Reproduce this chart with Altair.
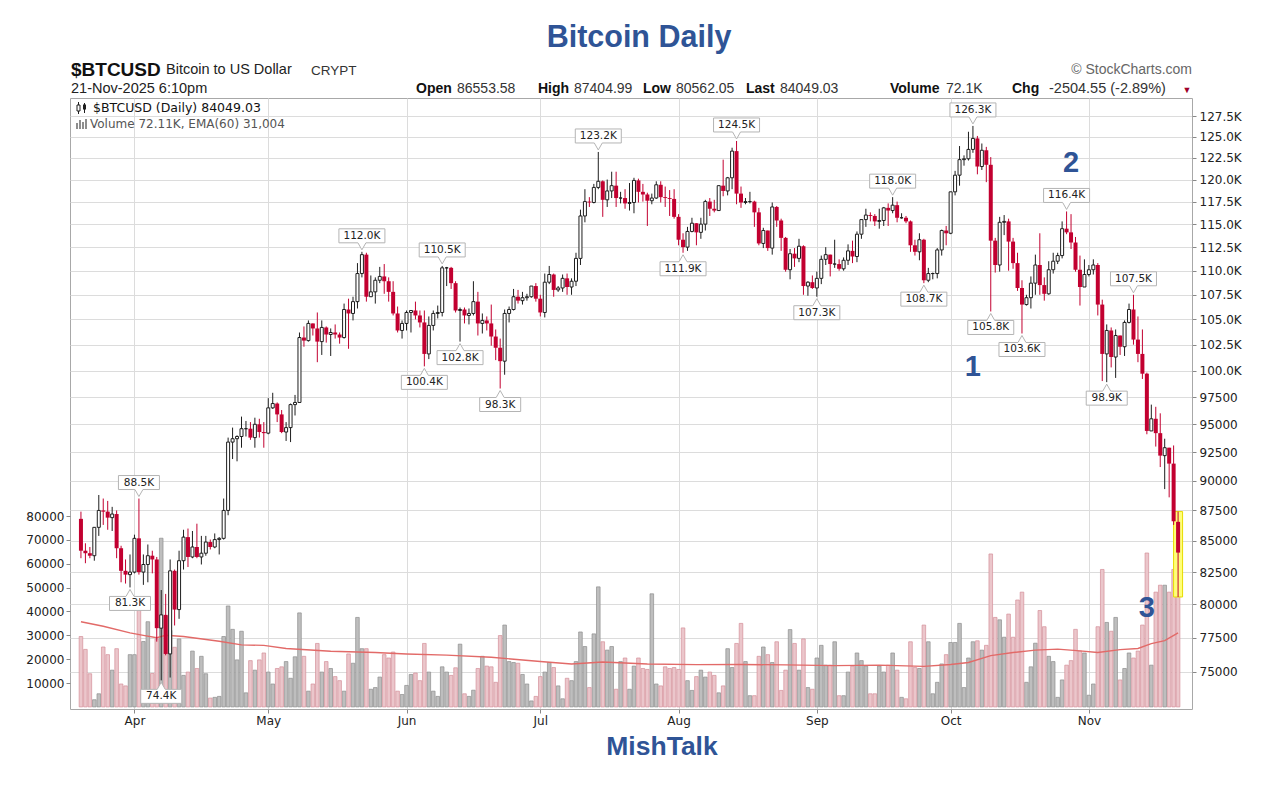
import altair as alt
import pandas as pd

# ---------------------------------------------------------------------------
# BTCUSD daily candles, 20-Mar-2025 .. 21-Nov-2025 (prices in thousands USD)
# ---------------------------------------------------------------------------
close_mar = [84.2, 84.0, 83.8, 86.1, 87.5, 87.4, 86.9, 87.2, 84.4, 82.6, 82.3, 82.5]
high_mar = [87.4, 84.8, 84.5, 86.1, 88.8, 88.5, 88.3, 87.8, 87.5, 84.6, 83.5, 83.9]
low_mar = [83.6, 83.2, 83.6, 83.4, 85.4, 86.3, 85.9, 85.8, 83.6, 81.7, 81.6, 81.3]

close_apr = [85.2, 82.5, 83.1, 83.8, 83.5, 78.2, 79.2, 76.3, 82.6, 79.6, 83.4, 85.3, 83.7, 84.5, 83.7,
             84.0, 84.9, 84.5, 85.1, 85.2, 87.5, 93.4, 93.7, 93.9, 94.6, 94.6, 93.8, 95.0, 94.3, 94.2]
high_apr = [85.5, 88.5, 83.9, 84.7, 84.2, 83.7, 81.1, 80.8, 83.5, 82.7, 84.2, 85.9, 86.0, 85.8, 86.4,
            85.4, 85.4, 85.1, 85.6, 85.3, 88.5, 93.8, 94.7, 94.0, 95.7, 95.3, 95.2, 95.6, 95.5, 95.2]
low_apr = [82.4, 82.3, 81.5, 81.7, 82.4, 77.2, 74.4, 76.2, 74.6, 78.4, 78.9, 82.7, 82.9, 83.6, 83.6,
           83.1, 83.8, 84.3, 84.4, 83.9, 85.1, 87.1, 91.9, 91.7, 92.9, 93.9, 93.6, 92.9, 93.8, 92.9]

close_may = [96.5, 96.9, 95.9, 94.3, 94.7, 96.8, 97.0, 103.2, 102.9, 104.6, 104.1, 102.8, 104.2, 103.5, 103.7,
             103.5, 103.2, 106.0, 105.6, 106.8, 109.7, 111.7, 107.3, 107.8, 109.0, 109.4, 108.9, 107.8, 105.6,
             103.9, 104.6]
high_may = [97.4, 97.9, 97.0, 96.3, 95.2, 96.9, 97.7, 103.7, 104.3, 104.9, 104.6, 105.7, 104.9, 104.3, 104.1,
            104.5, 103.7, 106.6, 107.1, 107.3, 110.8, 112.0, 111.9, 109.5, 109.3, 110.4, 110.7, 109.3, 108.9,
            106.3, 104.9]
low_may = [94.1, 96.4, 95.2, 94.2, 93.5, 93.4, 95.8, 97.0, 102.3, 102.8, 103.4, 100.8, 101.5, 102.7, 101.4,
           103.1, 102.6, 103.1, 102.1, 104.9, 106.1, 109.3, 106.8, 107.3, 106.6, 108.7, 107.6, 106.8, 105.4,
           103.7, 103.1]

close_jun = [105.7, 105.9, 105.4, 104.7, 101.6, 104.4, 105.6, 105.7, 110.3, 110.3, 108.7, 105.9, 106.0, 105.4,
             105.6, 106.8, 104.6, 104.9, 104.6, 103.3, 102.2, 100.9, 105.6, 106.0, 107.3, 106.9, 107.2, 107.3,
             108.4, 107.1]
high_jun = [105.9, 105.9, 106.8, 105.9, 105.9, 105.3, 105.9, 106.4, 110.5, 110.4, 110.4, 108.9, 106.2, 106.2,
            106.1, 108.9, 107.8, 105.6, 105.3, 106.5, 104.0, 103.1, 106.0, 106.3, 108.1, 108.0, 107.8, 107.6,
            108.4, 108.7]
low_jun = [103.9, 103.7, 105.0, 104.2, 100.4, 101.1, 103.9, 105.1, 105.3, 108.4, 108.1, 105.7, 102.8, 104.6,
           104.5, 105.4, 103.4, 103.6, 103.9, 102.4, 101.0, 98.3, 99.6, 104.7, 105.9, 106.6, 106.5, 106.9,
           107.2, 106.8]

close_jul = [105.7, 108.8, 109.6, 108.0, 108.2, 109.2, 108.3, 108.9, 111.3, 115.9, 117.5, 117.4, 119.1, 119.8,
             117.7, 118.7, 119.3, 117.9, 117.9, 117.3, 117.4, 119.9, 118.6, 118.3, 117.6, 117.9, 119.4, 118.0,
             117.9, 117.8, 115.8]
high_jul = [107.5, 109.7, 110.5, 109.7, 108.4, 109.6, 109.7, 109.2, 111.9, 116.6, 118.9, 118.0, 119.5, 123.2,
            119.9, 120.0, 120.9, 120.9, 118.6, 118.9, 119.6, 120.2, 120.1, 119.5, 118.5, 118.4, 119.8, 119.8,
            119.2, 118.8, 118.9]
low_jul = [105.3, 105.2, 108.6, 107.3, 107.8, 107.8, 107.5, 107.5, 108.4, 110.6, 115.2, 116.9, 117.3, 118.9,
           115.8, 116.9, 117.9, 116.9, 117.3, 116.7, 116.5, 116.2, 117.4, 117.5, 114.8, 117.2, 117.8, 117.4,
           116.9, 115.9, 115.6]

close_aug = [113.3, 112.5, 114.2, 115.1, 114.1, 115.0, 117.5, 116.7, 116.5, 119.3, 118.7, 120.2, 123.3, 118.4,
             117.4, 117.5, 117.5, 116.3, 112.9, 114.3, 112.4, 116.9, 115.4, 113.5, 110.1, 111.8, 111.3, 112.6,
             108.4, 108.8, 108.2]
high_aug = [116.1, 114.0, 114.7, 115.7, 115.1, 115.7, 117.7, 117.9, 117.7, 119.3, 122.3, 120.3, 123.7, 124.5,
            119.2, 117.9, 118.6, 117.6, 116.8, 114.6, 114.3, 117.4, 117.0, 115.6, 113.6, 112.3, 112.4, 113.4,
            112.7, 108.9, 109.5]
low_aug = [112.7, 111.9, 112.1, 114.1, 112.7, 113.4, 114.3, 115.9, 116.3, 116.5, 118.1, 118.2, 118.9, 117.2,
           116.8, 117.2, 117.3, 114.7, 112.7, 112.4, 112.1, 111.7, 114.7, 112.1, 109.9, 109.1, 110.4, 110.9,
           107.5, 107.4, 108.1]

close_sep = [109.2, 111.2, 111.7, 110.7, 110.7, 110.2, 111.1, 112.1, 111.5, 113.9, 115.5, 116.0, 115.9, 115.3,
             115.4, 116.8, 116.5, 117.1, 115.7, 115.7, 115.3, 112.7, 112.0, 113.3, 109.0, 109.7, 109.7, 112.2,
             114.3, 114.0]
high_sep = [109.9, 111.6, 112.5, 111.7, 113.3, 111.2, 111.4, 112.8, 113.2, 114.2, 115.5, 116.7, 116.3, 116.1,
            116.7, 116.9, 117.3, 118.0, 117.5, 116.2, 115.9, 115.4, 113.3, 114.0, 113.4, 110.3, 109.8, 112.4,
            114.4, 114.8]
low_sep = [107.3, 108.6, 110.6, 109.4, 110.3, 110.0, 110.0, 110.6, 110.8, 110.9, 113.4, 114.7, 115.3, 114.8,
           114.5, 114.8, 114.8, 116.2, 115.2, 115.6, 115.1, 112.0, 111.6, 111.1, 108.7, 108.8, 109.1, 109.2,
           111.6, 112.7]

close_oct = [118.6, 120.5, 122.3, 122.4, 123.5, 124.8, 121.5, 123.4, 121.7, 113.2, 110.6, 115.2, 115.3, 113.1,
             110.8, 108.2, 106.5, 107.2, 108.7, 110.6, 108.5, 107.6, 110.1, 111.0, 111.6, 114.5, 114.1, 113.0,
             110.1, 108.3, 109.6]
high_oct = [118.6, 121.0, 123.9, 122.8, 125.6, 126.3, 125.1, 124.2, 123.8, 122.6, 113.5, 115.8, 116.0, 115.6,
            113.5, 111.9, 109.0, 107.5, 109.4, 111.7, 114.0, 109.3, 111.0, 111.9, 111.9, 115.3, 116.4, 116.1,
            113.6, 111.6, 111.2]
low_oct = [113.9, 118.2, 119.3, 121.6, 122.2, 123.1, 120.6, 121.1, 119.7, 105.8, 109.8, 109.9, 113.8, 110.0,
           110.2, 107.9, 103.6, 106.4, 106.1, 107.5, 107.5, 106.9, 107.5, 109.7, 110.7, 111.3, 113.9, 112.3,
           109.9, 106.4, 108.3]

close_nov = [110.1, 110.6, 106.5, 101.6, 103.9, 101.3, 103.4, 102.3, 104.7, 106.0, 103.0, 101.6, 99.7, 94.4,
             95.5, 94.2, 92.2, 92.9, 91.5, 86.6, 84.04903]
high_nov = [110.6, 111.2, 110.8, 107.0, 104.5, 104.2, 104.0, 103.4, 104.9, 106.6, 107.5, 105.3, 104.0, 99.8,
            96.8, 96.6, 96.0, 93.7, 92.9, 93.1, 87.40499]
low_nov = [109.4, 109.6, 105.4, 99.0, 98.9, 100.3, 99.3, 101.5, 101.4, 104.6, 102.5, 100.8, 99.2, 94.1,
           94.6, 93.0, 91.2, 89.3, 88.6, 86.3, 80.56205]

first_open_k = 86.8
last_open_k = 86.55358

# daily volume (thousands)
volume_k = [
    29.5, 24.1, 13.9, 3.0, 5.5, 25.1, 21.9, 15.4, 24.4, 9.6, 8.8, 21.9, 21.9,
    40.8, 27.4, 35.7, 14.0, 28.5, 70.7,
    37.9, 32.1, 25.0, 28.5, 13.2, 14.6, 23.4, 16.1, 21.2, 13.9, 3.7, 4.0, 4.4, 29.5, 42.3,
    32.5, 19.7, 31.7, 5.9, 19.4, 15.4, 19.7, 22.6, 14.6, 9.6, 16.1, 16.8, 19.0, 12.0, 21.0, 39.4,
    21.2, 6.6, 9.6, 26.6, 14.6, 19.0, 16.1, 12.7, 11.0, 6.6, 22.2, 18.3, 37.5, 24.4, 24.4, 7.4, 8.1,
    12.5, 21.9, 20.5, 23.0, 6.6, 5.2, 9.0,
    13.6, 14.2, 11.0, 26.6, 14.6, 6.6, 4.4, 16.8, 14.6, 13.2, 16.4, 26.3, 5.5, 4.4, 7.0,
    16.1, 21.2, 17.1, 16.8, 10.3, 29.9, 34.3, 19.0, 18.6, 18.3, 13.6, 9.6, 2.5, 4.4, 12.7, 14.6, 18.6,
    16.5, 8.8, 3.4, 12.0, 11.0, 19.0, 31.4, 25.3, 8.1, 30.6, 50.3,
    27.3, 23.8, 25.3, 7.4, 19.0, 20.5,
    7.4, 17.1, 20.5, 16.1, 15.7, 47.4, 9.6, 8.8, 16.8, 16.1,
    16.5, 15.7, 33.1, 11.0, 6.9, 12.7, 15.4, 12.5, 14.6, 13.2,
    5.9, 8.8, 24.4, 16.5, 26.6, 35.0, 19.0, 4.7, 4.7, 21.2,
    25.1, 21.9, 18.6, 27.3, 6.9, 15.4, 32.4, 26.6, 15.4, 28.5,
    8.1, 7.4, 20.5, 25.8, 17.5, 17.5, 27.3, 4.7, 4.7, 14.6,
    17.1, 22.6, 19.4, 17.1, 5.5, 5.5, 17.1, 14.6, 17.5, 22.6,
    15.4, 4.0, 3.4, 27.3, 16.5, 16.1, 34.3, 27.3, 5.5, 10.3,
    18.0, 21.9, 27.0, 27.0, 35.0, 8.1, 20.5, 27.3, 27.7, 23.8,
    25.8, 64.1, 37.5, 36.5, 29.2, 38.9, 29.2, 44.8, 48.1, 10.3,
    16.8, 26.7, 40.4, 33.6, 21.2, 19.0, 4.0, 11.3, 17.5, 19.4,
    32.5, 23.4, 22.6, 4.9, 9.6, 33.6, 57.6, 35.4, 31.7, 37.5,
    11.3, 16.1, 22.6, 20.5, 23.4, 34.3, 64.5, 17.5, 48.1, 51.0,
    51.0, 48.1, 57.6, 72.11,
]

# EMA(60) of volume (thousands)
ema_dates = ["2025-03-20", "2025-03-25", "2025-03-31", "2025-04-03", "2025-04-06", "2025-04-08",
             "2025-04-12", "2025-04-20", "2025-04-25", "2025-04-30", "2025-05-05", "2025-05-15",
             "2025-05-25", "2025-06-01", "2025-06-10", "2025-06-20", "2025-07-01", "2025-07-08",
             "2025-07-15", "2025-07-25", "2025-08-05", "2025-08-15", "2025-08-25", "2025-09-05",
             "2025-09-15", "2025-09-25", "2025-10-01", "2025-10-05", "2025-10-10", "2025-10-15",
             "2025-10-20", "2025-10-25", "2025-10-30", "2025-11-03", "2025-11-08", "2025-11-12",
             "2025-11-15", "2025-11-18", "2025-11-21"]
ema_k = [35.7, 33.8, 31.0, 30.0, 29.0, 30.0, 29.5, 27.5, 26.0, 25.8, 24.5, 23.3, 22.8, 22.2, 21.7,
         20.8, 19.0, 18.0, 18.8, 18.0, 17.7, 17.8, 17.6, 17.3, 17.5, 17.0, 17.8, 18.6, 21.5, 22.8,
         23.8, 24.2, 23.5, 22.8, 24.0, 24.5, 26.5, 27.8, 31.0]

# swing highs / lows that carry a value callout
peak_days = ["2025-04-02", "2025-05-22", "2025-06-09", "2025-07-14", "2025-08-14", "2025-09-18",
             "2025-10-06", "2025-10-27", "2025-11-11"]
trough_days = ["2025-03-31", "2025-04-07", "2025-06-05", "2025-06-13", "2025-06-22", "2025-08-02",
               "2025-09-01", "2025-09-25", "2025-10-10", "2025-10-17", "2025-11-05"]

# numbered notes: (text, day, price)
note_text = ["1", "2", "3"]
note_day = ["2025-10-06", "2025-10-28", "2025-11-14"]
note_price = [100300, 121900, 79700]

# ---------------------------------------------------------------------------
close_k = close_mar + close_apr + close_may + close_jun + close_jul + close_aug + close_sep + close_oct + close_nov
high_k = high_mar + high_apr + high_may + high_jun + high_jul + high_aug + high_sep + high_oct + high_nov
low_k = low_mar + low_apr + low_may + low_jun + low_jul + low_aug + low_sep + low_oct + low_nov
open_k = [first_open_k] + close_k[:-1]
open_k[-1] = last_open_k

days = pd.date_range("2025-03-20", periods=len(close_k), freq="D")
df = pd.DataFrame({
    "date": days.strftime("%Y-%m-%dT00:00:00"),
    "open": [v * 1000 for v in open_k],
    "high": [v * 1000 for v in high_k],
    "low": [v * 1000 for v in low_k],
    "close": [v * 1000 for v in close_k],
    "volume": [v * 1000 for v in volume_k],
})
df["dir"] = ["up" if c >= o else "down" for o, c in zip(df["open"], df["close"])]

ema_df = pd.DataFrame({"date": [d + "T00:00:00" for d in ema_dates], "ema": [v * 1000 for v in ema_k]})


def callout_path(width, above):
    h = width / 2
    if above:
        return f"M0,-2L-4,-9L{-h},-9L{-h},-23L{h},-23L{h},-9L4,-9Z"
    return f"M0,2L4,9L{h},9L{h},23L{-h},23L{-h},9L-4,9Z"


rows = []
by_day = df.set_index(df["date"].str[:10])
for d in peak_days:
    v = by_day.loc[d, "high"]
    t = f"{v / 1000:.1f}K"
    rows.append({"date": d + "T00:00:00", "val": v, "label": t, "side": "above",
                 "path": callout_path(46 if len(t) > 5 else 41, True)})
for d in trough_days:
    v = by_day.loc[d, "low"]
    t = f"{v / 1000:.1f}K"
    rows.append({"date": d + "T00:00:00", "val": v, "label": t, "side": "below",
                 "path": callout_path(46 if len(t) > 5 else 41, False)})
callouts = pd.DataFrame(rows)

notes = pd.DataFrame({"date": [d + "T00:00:00" for d in note_day], "price": note_price, "text": note_text})

# ---------------------------------------------------------------------------
W, H = 1122, 611
LEFT, TOP = 70, 98
RED = "#C20030"
INK = "#1E1E1E"
BLUE = "#2F5496"
AXFONT = "DejaVu Sans"

x_scale = alt.Scale(domain=[alt.DateTime(year=2025, month=3, date=18, hours=16),
                            alt.DateTime(year=2025, month=11, date=23)], nice=False)
x_axis = alt.Axis(values=[alt.DateTime(year=2025, month=m, date=1) for m in range(4, 12)],
                  format="%b", title=None, grid=True, gridColor="#dcdcdc", domain=False,
                  tickSize=4, tickColor="#888", labelFlush=False, labelFont=AXFONT,
                  labelFontSize=12, labelColor="#222", labelPadding=2)
X = alt.X("date:T", scale=x_scale, axis=x_axis)

vol_scale = alt.Scale(domain=[-880, 255200], nice=False, zero=False)
vol_axis = alt.Axis(orient="left", values=list(range(10000, 80001, 10000)), format="d", title=None,
                    grid=False, domain=False, tickSize=4, tickColor="#888", labelFont=AXFONT,
                    labelFontSize=12, labelColor="#222", labelPadding=2)

price_scale = alt.Scale(type="log", domain=[72393, 129713], nice=False, zero=False)
price_axis = alt.Axis(orient="right", values=list(range(75000, 127501, 2500)), title=None,
                      labelExpr="datum.value >= 100000 ? format(datum.value / 1000, '.1f') + 'K' : format(datum.value, 'd')",
                      grid=True, gridColor="#dcdcdc", domain=False, tickSize=4, tickColor="#888",
                      labelFont=AXFONT, labelFontSize=12, labelColor="#222", labelPadding=3)

base = alt.Chart(df)

vol_up = base.transform_filter("datum.dir == 'up'").mark_bar(
    size=3.6, fill="#BEBEBE", stroke="#8E8E8E", strokeWidth=0.7).encode(
    x=X, y=alt.Y("volume:Q", scale=vol_scale, axis=vol_axis))
vol_down = base.transform_filter("datum.dir == 'down'").mark_bar(
    size=3.6, fill="#EBC6CB", stroke="#D48F9A", strokeWidth=0.7).encode(
    x=X, y=alt.Y("volume:Q", scale=vol_scale, axis=vol_axis))
ema = alt.Chart(ema_df).mark_line(color="#E26A68", strokeWidth=1.4).encode(
    x=X, y=alt.Y("ema:Q", scale=vol_scale, axis=vol_axis))
volume_panel = alt.layer(vol_up, vol_down, ema)

PY = lambda f: alt.Y(f, scale=price_scale, axis=price_axis)

last_day = base.transform_window(rn="row_number()", sort=[alt.SortField("date", order="descending")]) \
    .transform_filter("datum.rn == 1")
highlight = last_day.mark_bar(size=9, fill="#FFFF78", stroke="#E8DC00", strokeWidth=1).encode(
    x=X, y=PY("low:Q"), y2="high:Q")

wick_up = base.transform_filter("datum.dir == 'up'").mark_rule(color=INK, strokeWidth=1).encode(
    x=X, y=PY("low:Q"), y2="high:Q")
wick_down = base.transform_filter("datum.dir == 'down'").mark_rule(color=RED, strokeWidth=1).encode(
    x=X, y=PY("low:Q"), y2="high:Q")
body_up = base.transform_filter("datum.dir == 'up'").mark_bar(
    size=3, fill="white", stroke=INK, strokeWidth=1).encode(x=X, y=PY("open:Q"), y2="close:Q")
body_down = base.transform_filter("datum.dir == 'down'").mark_bar(
    size=4, fill=RED, strokeWidth=0).encode(x=X, y=PY("open:Q"), y2="close:Q")

cbase = alt.Chart(callouts)
boxes = cbase.mark_point(filled=True, fill="white", stroke="#B4B4B4", strokeWidth=1, size=4, opacity=1).encode(
    x=X, y=PY("val:Q"), shape=alt.Shape("path:N", scale=None))
txt_above = cbase.transform_filter("datum.side == 'above'").mark_text(
    dy=-16, font=AXFONT, fontSize=10.5, color="#222", baseline="middle").encode(
    x=X, y=PY("val:Q"), text="label:N")
txt_below = cbase.transform_filter("datum.side == 'below'").mark_text(
    dy=16, font=AXFONT, fontSize=10.5, color="#222", baseline="middle").encode(
    x=X, y=PY("val:Q"), text="label:N")
note_marks = alt.Chart(notes).mark_text(
    font="Liberation Sans", fontWeight="bold", fontSize=29, color=BLUE, baseline="middle").encode(
    x=X, y=PY("price:Q"), text="text:N")

price_panel = alt.layer(highlight, wick_up, wick_down, body_up, body_down, boxes, txt_above, txt_below,
                        note_marks)

one = pd.DataFrame({"k": [0]})


def label(s, x, y, size, weight="normal", color="#222222", font="Liberation Sans", align="left"):
    return alt.Chart(one).mark_text(
        text=s, fontSize=size, fontWeight=weight, color=color, font=font, align=align, baseline="middle"
    ).encode(x=alt.value(x - LEFT), y=alt.value(y - TOP))


def box(x1, x2, y1, y2, fill, stroke=None):
    props = {"fill": fill, "strokeWidth": 1 if stroke else 0}
    if stroke:
        props["stroke"] = stroke
    return alt.Chart(one).mark_rect(**props).encode(
        x=alt.value(x1 - LEFT), x2=alt.value(x2 - LEFT), y=alt.value(y1 - TOP), y2=alt.value(y2 - TOP))


def stick(x, y1, y2, color):
    return alt.Chart(one).mark_rule(color=color, strokeWidth=1).encode(
        x=alt.value(x - LEFT), y=alt.value(y1 - TOP), y2=alt.value(y2 - TOP))


# legend icons inside the plot frame (price candles, volume bars)
icons = [
    stick(78.5, 102, 114, INK), box(77, 80, 105, 111, "white", INK),
    stick(84.5, 103, 113, INK), box(83, 86, 104.5, 109.5, INK),
    box(76, 78, 123, 129, "#8E8E8E"), box(79, 81, 120, 129, "#8E8E8E"),
    box(82, 84, 122, 129, "#8E8E8E"), box(85, 87, 119, 129, "#8E8E8E"),
]

texts = [
    label("Bitcoin Daily", 639, 38, 30.5, "bold", BLUE, align="center"),
    label("MishTalk", 662, 747, 26.5, "bold", BLUE, align="center"),
    label("$BTCUSD", 71, 70, 19, "bold", "#111111"),
    label("Bitcoin to US Dollar", 166, 70, 14.5),
    label("CRYPT", 311, 71, 13.5, color="#333333"),
    label("21-Nov-2025 6:10pm", 71, 89, 14.5),
    label("© StockCharts.com", 1192, 70, 14, color="#666666", align="right"),
    label("Open", 416, 89, 14, "bold", "#111111"),
    label("86553.58", 457, 89, 14, color="#333333"),
    label("High", 538, 89, 14, "bold", "#111111"),
    label("87404.99", 574, 89, 14, color="#333333"),
    label("Low", 643, 89, 14, "bold", "#111111"),
    label("80562.05", 676, 89, 14, color="#333333"),
    label("Last", 746, 89, 14, "bold", "#111111"),
    label("84049.03", 780, 89, 14, color="#333333"),
    label("Volume", 890, 89, 14, "bold", "#111111"),
    label("72.1K", 946, 89, 14, color="#333333"),
    label("Chg", 1012, 89, 14, "bold", "#111111"),
    label("-2504.55 (-2.89%)", 1049, 89, 14.5, color="#333333"),
    label("▼", 1187, 90, 9, color="#A0002A", align="center"),
    label("$BTCUSD (Daily) 84049.03", 93, 108, 12.5, font=AXFONT, color="#111111"),
    label("Volume 72.11K, EMA(60) 31,004", 90, 124, 12, font=AXFONT, color="#555555"),
]

chart = alt.layer(volume_panel, price_panel, *icons, *texts).resolve_scale(y="independent").properties(
    width=W, height=H,
    padding={"left": LEFT, "top": TOP, "right": 1280 - LEFT - W, "bottom": 797 - TOP - H},
    autosize=alt.AutoSizeParams(type="none"),
    background="white",
).configure_view(stroke="#A8A8A8", strokeWidth=1)

chart.save("out.html", embed_options={"renderer": "svg", "actions": False})
